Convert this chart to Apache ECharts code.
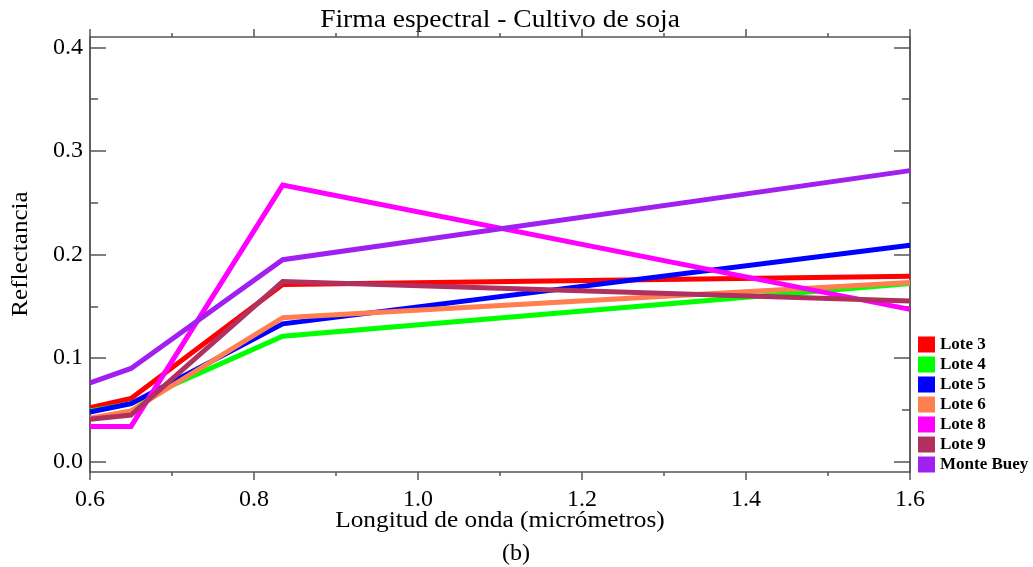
<!DOCTYPE html>
<html>
<head>
<meta charset="utf-8">
<script src="https://cdn.jsdelivr.net/npm/echarts@6/dist/echarts.min.js"></script>
<style>
  html, body { margin: 0; padding: 0; background: #fff; }
  #chart { width: 1033px; height: 567px; }
</style>
</head>
<body>
<div id="chart"></div>
<script>
// Wavelengths (micrometres) of the sampled bands
const wavelengths = [0.6, 0.65, 0.835, 1.6];

// Reflectance per field
const lote3 = [0.052, 0.061, 0.171, 0.179];
const lote4 = [0.049, 0.056, 0.121, 0.172];
const lote5 = [0.048, 0.056, 0.133, 0.209];
const lote6 = [0.042, 0.049, 0.139, 0.173];
const lote8 = [0.034, 0.034, 0.267, 0.147];
const lote9 = [0.041, 0.045, 0.174, 0.155];
const monteBuey = [0.076, 0.090, 0.195, 0.281];

const seriesNames = ['Lote 3', 'Lote 4', 'Lote 5', 'Lote 6', 'Lote 8', 'Lote 9', 'Monte Buey'];
const seriesValues = [lote3, lote4, lote5, lote6, lote8, lote9, monteBuey];
const seriesColors = ['#ff0000', '#00ff00', '#0000ff', '#ff7f50', '#ff00ff', '#b03060', '#a020f0'];

const yMajorTicks = [0, 0.1, 0.2, 0.3, 0.4];
const yMinorTicks = [0.05, 0.15, 0.25, 0.35];

const serif = 'Liberation Serif';
const axisColor = '#555';

const chart = echarts.init(document.getElementById('chart'), null, { renderer: 'canvas' });

function yAxisCfg(position, major, showLabels) {
  return {
    type: 'value',
    position: position,
    min: -0.01,
    max: 0.41,
    axisLine: { show: true, onZero: false, lineStyle: { color: axisColor, width: 1.5 } },
    axisTick: {
      show: true,
      inside: true,
      length: major ? 16 : 8,
      customValues: major ? yMajorTicks : yMinorTicks,
      lineStyle: { color: axisColor, width: 1.5 }
    },
    axisLabel: {
      show: showLabels,
      customValues: yMajorTicks,
      formatter: v => v.toFixed(1),
      margin: 7,
      color: '#000',
      fontFamily: serif,
      fontSize: 24
    },
    splitLine: { show: false }
  };
}

function xAxisCfg(position, showLabels) {
  return {
    type: 'value',
    position: position,
    min: 0.6,
    max: 1.6,
    interval: 0.2,
    axisLine: { show: true, onZero: false, lineStyle: { color: axisColor, width: 1.5 } },
    axisTick: { show: true, inside: false, length: 8, lineStyle: { color: axisColor, width: 1.5 } },
    minorTick: { show: true, splitNumber: 2, length: 4, lineStyle: { color: axisColor, width: 1.5 } },
    axisLabel: {
      show: showLabels,
      formatter: v => v.toFixed(1),
      margin: 16,
      color: '#000',
      fontFamily: serif,
      fontSize: 24
    },
    splitLine: { show: false },
    minorSplitLine: { show: false }
  };
}

const series = seriesNames.map((name, i) => ({
  name: name,
  type: 'line',
  xAxisIndex: 0,
  yAxisIndex: 0,
  data: wavelengths.map((w, j) => [w, seriesValues[i][j]]),
  showSymbol: false,
  symbol: 'none',
  clip: true,
  color: seriesColors[i],
  lineStyle: { width: 5, color: seriesColors[i], cap: 'butt', join: 'miter' },
  emphasis: { disabled: true }
}));

// Title, axis names and panel tag, set in a slightly widened serif face
const textBlack = '#000';
const graphics = [
  {
    type: 'text', x: 500, y: 20, scaleX: 1.1,
    style: { text: 'Firma espectral - Cultivo de soja', fill: textBlack,
             font: '25px "Liberation Serif"', align: 'center', verticalAlign: 'middle' }
  },
  {
    type: 'text', x: 500, y: 521, scaleX: 1.1,
    style: { text: 'Longitud de onda (micrómetros)', fill: textBlack,
             font: '23px "Liberation Serif"', align: 'center', verticalAlign: 'middle' }
  },
  {
    type: 'text', x: 21, y: 254, rotation: Math.PI / 2, scaleX: 1.09,
    style: { text: 'Reflectancia', fill: textBlack,
             font: '23px "Liberation Serif"', align: 'center', verticalAlign: 'middle' }
  },
  {
    type: 'text', x: 516, y: 554, scaleX: 1.05,
    style: { text: '(b)', fill: textBlack,
             font: '23px "Liberation Serif"', align: 'center', verticalAlign: 'middle' }
  }
];

chart.setOption({
  animation: false,
  backgroundColor: '#fff',
  grid: { left: 90, right: 123, top: 37, bottom: 95, containLabel: false },
  xAxis: [xAxisCfg('bottom', true), xAxisCfg('top', false)],
  yAxis: [
    yAxisCfg('left', true, true),
    yAxisCfg('left', false, false),
    yAxisCfg('right', true, false),
    yAxisCfg('right', false, false)
  ],
  legend: {
    orient: 'vertical',
    left: 918,
    top: 336,
    icon: 'rect',
    itemWidth: 17,
    itemHeight: 16,
    itemGap: 3,
    selectedMode: false,
    padding: 0,
    textStyle: { color: '#000', fontFamily: serif, fontSize: 17, lineHeight: 16,
                 fontWeight: 'bold', padding: 0 },
    data: seriesNames
  },
  graphic: graphics,
  series: series
});
</script>
</body>
</html>
